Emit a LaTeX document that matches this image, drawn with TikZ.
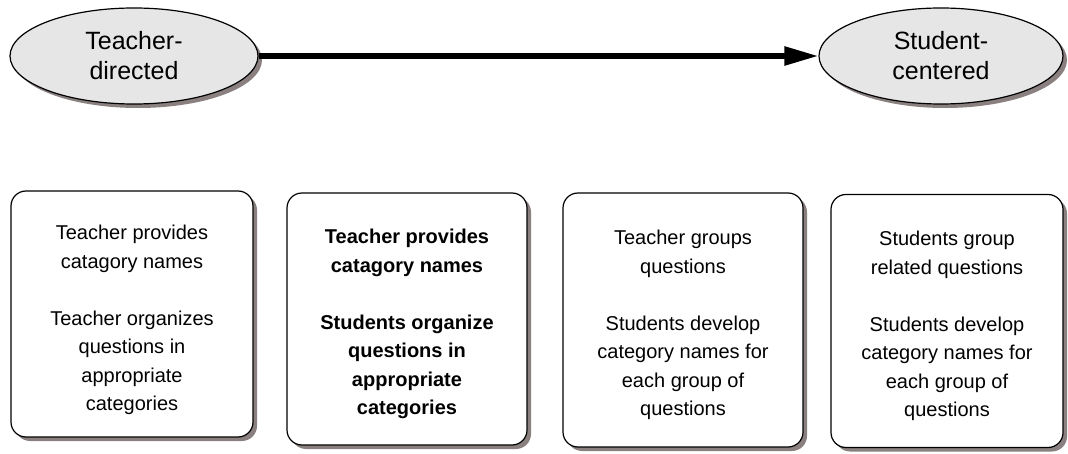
\documentclass[tikz,border=0pt]{standalone}
\usepackage{fontspec}
\setmainfont{Liberation Sans}
\usetikzlibrary{shapes.geometric,shadows,arrows.meta}

\definecolor{shadowgray}{RGB}{138,128,128}
\definecolor{polefill}{RGB}{230,230,230}

\tikzset{
    myshadow/.style = {drop shadow={shadow xshift=4pt, shadow yshift=-4pt, fill=shadowgray, opacity=1}},
    pole/.style = {ellipse, draw, line width=1.2pt, fill=polefill, myshadow, inner sep=0pt,
        minimum height=96pt, align=center, font=\fontsize{25}{30}\selectfont},
    stage/.style = {rectangle, rounded corners=15pt, draw, line width=1.2pt, fill=white, myshadow, inner sep=0pt},
    stagetext/.style = {align=center, inner sep=0pt, font=\fontsize{20}{28.5}\selectfont},
}

\begin{document}
\begin{tikzpicture}[x=1pt, y=-1pt]
    \useasboundingbox (0,0) rectangle (1068,454);

    % the two ends of the scale
    \node[pole, minimum width=248pt] (teacher) at (134,56) {Teacher-\\directed};
    \node[pole, minimum width=244pt] (student) at (941,56) {Student-\\centered};
    \draw[line width=5.5pt, -{Triangle[length=34pt, width=18pt]}] (teacher.east) -- (student.west);

    % four stages
    \node[stage, minimum width=242pt, minimum height=246pt] (stageA) at (132,314) {};
    \node[stagetext] (textA) at (132,320)
        {Teacher provides\\catagory names\\[28.5pt]Teacher organizes\\questions in\\appropriate\\categories};
    \node[stage, minimum width=240pt, minimum height=252pt] (stageB) at (407,319) {};
    \node[stagetext, font=\fontsize{20}{28.5}\selectfont\bfseries] (textB) at (407,324)
        {Teacher provides\\catagory names\\[28.5pt]Students organize\\questions in\\appropriate\\categories};
    \node[stage, minimum width=240pt, minimum height=254pt] (stageC) at (683,320) {};
    \node[stagetext] (textC) at (683,325)
        {Teacher groups\\questions\\[28.5pt]Students develop\\category names for\\each group of\\questions};
    \node[stage, minimum width=232pt, minimum height=253pt] (stageD) at (947,321) {};
    \node[stagetext] (textD) at (947,326)
        {Students group\\related questions\\[28.5pt]Students develop\\category names for\\each group of\\questions};
\end{tikzpicture}
\end{document}
